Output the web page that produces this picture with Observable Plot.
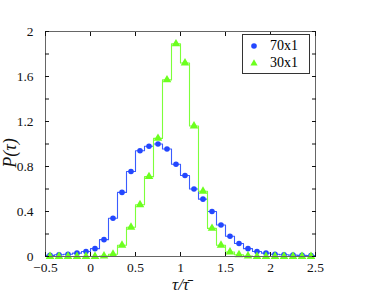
<!DOCTYPE html>
<html><head><meta charset="utf-8">
<script src="https://cdn.jsdelivr.net/npm/d3@7"></script>
<script src="https://cdn.jsdelivr.net/npm/@observablehq/plot@0.6"></script>
<style>
body{margin:0;background:#fff;}
#wrap{position:relative;width:368px;height:293px;font-family:'Liberation Serif',serif;}
#legend{position:absolute;left:242px;top:34px;width:66px;height:38px;border:1px solid #333;background:#fff;font-size:14px;}
.row{position:absolute;left:0;height:16px;line-height:16px;}
.row svg{position:absolute;left:5px;top:1px;}
.row span{position:absolute;left:27px;top:0;white-space:nowrap;}
</style></head><body><div id="wrap"></div>
<script>
const binCenters = [-0.45,-0.35,-0.25,-0.15,-0.05,0.05,0.15,0.25,0.35,0.45,0.55,0.65,0.75,0.85,0.95,1.05,1.15,1.25,1.35,1.45,1.55,1.65,1.75,1.85,1.95,2.05,2.15,2.25,2.35,2.45];
const series70 = [0.01,0.015,0.02,0.03,0.045,0.07,0.15,0.34,0.57,0.755,0.94,0.98,1.0,0.955,0.82,0.72,0.60,0.51,0.40,0.28,0.18,0.115,0.07,0.045,0.03,0.02,0.015,0.012,0.01,0.008];
const series30 = [0,0,0,0,0,0,0.005,0.02,0.10,0.26,0.46,0.71,1.05,1.57,1.89,1.72,1.16,0.58,0.25,0.10,0.04,0.015,0.005,0,0,0,0,0,0,0];
const seriesNames = ["70x1","30x1"];
const xTicks = [-0.5,0,0.5,1,1.5,2,2.5];
const yTicks = [0,0.4,0.8,1.2,1.6,2];
const yMinorTicks = [0,0.2,0.4,0.6,0.8,1.0,1.2,1.4,1.6,1.8,2];
const colors = ["#2347ff","#6cff1e"];
const lineColors = ["#3a5cff","#7dff3a"];

const bw = binCenters[1]-binCenters[0];
function steps(vals){
  const pts = binCenters.map((c,i)=>({x:c-bw/2,y:vals[i]}));
  pts.push({x:binCenters[binCenters.length-1]+bw/2,y:vals[vals.length-1]});
  return pts;
}
const pts70 = binCenters.map((c,i)=>({x:c,y:series70[i]}));
const pts30 = binCenters.map((c,i)=>({x:c,y:series30[i]}));
const fmt = d3.format("~g");

const chart = Plot.plot({
  width:368, height:293,
  marginLeft:45, marginRight:53, marginTop:31, marginBottom:37,
  style:{fontFamily:"'Liberation Serif', serif", fontSize:"13.5px", background:"#fff", color:"#111"},
  x:{domain:[-0.5,2.5]},
  y:{domain:[0,2]},
  marks:[
    Plot.line(steps(series70),{x:"x",y:"y",curve:"step-after",stroke:lineColors[0],strokeWidth:1.1}),
    Plot.dot(pts70,{x:"x",y:"y",r:2.8,fill:colors[0],stroke:"none"}),
    Plot.line(steps(series30),{x:"x",y:"y",curve:"step-after",stroke:lineColors[1],strokeWidth:1.1}),
    Plot.dot(pts30,{x:"x",y:"y",symbol:"triangle",r:3.2,fill:colors[1],stroke:"none"}),
    Plot.frame({stroke:"#666"}),
    Plot.axisX({anchor:"bottom",ticks:xTicks,tickSize:0,tickPadding:6,tickFormat:fmt,label:null}),
    Plot.axisX({anchor:"bottom",ticks:xTicks,tickSize:-4,tickFormat:()=>"",label:null}),
    Plot.axisX({anchor:"top",ticks:xTicks,tickSize:-4,tickFormat:()=>"",label:null}),
    Plot.axisY({anchor:"left",ticks:yTicks,tickSize:0,tickPadding:12,tickFormat:fmt,label:null}),
    Plot.axisY({anchor:"left",ticks:yMinorTicks,tickSize:-4,tickFormat:()=>"",label:null}),
    Plot.axisY({anchor:"right",ticks:yMinorTicks,tickSize:-4,tickFormat:()=>"",label:null}),
    Plot.text(["τ/τ\u0304"],{frameAnchor:"bottom",lineAnchor:"middle",dy:28,fontStyle:"italic",fontSize:17}),
    Plot.text(["P(τ)"],{frameAnchor:"left",lineAnchor:"middle",textAnchor:"middle",dx:-35,dy:9,rotate:-90,fontStyle:"italic",fontSize:18})
  ]
});
const wrap = document.getElementById("wrap");
wrap.appendChild(chart);

const legend = document.createElement("div");
legend.id = "legend";
const syms = ['<circle cx="6" cy="7" r="2.8" fill="'+colors[0]+'"/>','<path d="M6,3.2 L9.6,9.6 L2.4,9.6 Z" fill="'+colors[1]+'"/>'];
seriesNames.forEach((n,i)=>{
  const r = document.createElement("div");
  r.className="row";
  r.style.top = (3+i*17)+"px";
  r.innerHTML = '<svg width="12" height="14">'+syms[i]+'</svg><span>'+n+'</span>';
  legend.appendChild(r);
});
wrap.appendChild(legend);
</script></body></html>
